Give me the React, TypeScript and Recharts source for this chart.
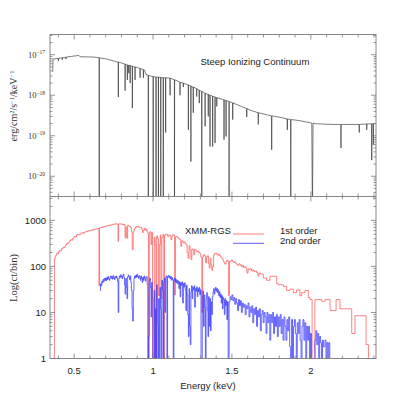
import React from 'react';
import { LineChart, Line, XAxis, YAxis } from 'recharts';

// ---------- layout constants ----------
const SIZE = 409;
const LEFT = 50;
const RIGHT = 376;
const TOP = 34.5;
const MID = 196.5;
const BOTTOM = 358.5;
const PANEL_H = MID - TOP;
const PLOT_W = RIGHT - LEFT;
const XAXIS_H = 20;
const FRAME = '#7a7a7a';
const SANS = 'Liberation Sans, Arial, Helvetica, sans-serif';
const SERIF = 'Liberation Serif, Times New Roman, serif';

// ---------- axes ----------
const energyDomain: [number, number] = [0.347, 2.413];
const energyTicks = [0.4, 0.5, 0.6, 0.7, 0.8, 0.9, 1.0, 1.1, 1.2, 1.3, 1.4, 1.5, 1.6, 1.7, 1.8, 1.9, 2.0, 2.1, 2.2, 2.3, 2.4];
const energyMajor = [0.5, 1, 1.5, 2];
const energyMajorLabels = ['0.5', '1', '1.5', '2'];

const fluxDomain: [number, number] = [3.162e-21, 3.162e-17];
const fluxMajor = [1e-20, 1e-19, 1e-18, 1e-17];
const fluxMajorExponents = ['\u221220', '\u221219', '\u221218', '\u221217'];
const fluxMinor = [
  4e-21, 5e-21, 6e-21, 7e-21, 8e-21, 9e-21,
  2e-20, 3e-20, 4e-20, 5e-20, 6e-20, 7e-20, 8e-20, 9e-20,
  2e-19, 3e-19, 4e-19, 5e-19, 6e-19, 7e-19, 8e-19, 9e-19,
  2e-18, 3e-18, 4e-18, 5e-18, 6e-18, 7e-18, 8e-18, 9e-18,
  2e-17, 3e-17,
];

const countDomain: [number, number] = [1, 3300];
const countMajor = [1, 10, 100, 1000];
const countMajorLabels = ['1', '10', '100', '1000'];
const countMinor = [2, 3, 4, 5, 6, 7, 8, 9, 20, 30, 40, 50, 60, 70, 80, 90, 200, 300, 400, 500, 600, 700, 800, 900, 2000, 3000];

// ---------- top panel: continuum model (energy keV, flux) ----------
const continuum: [number, number][] = [
  [0.364, 3.8e-18], [0.366, 7.8e-18], [0.392, 8.1e-18], [0.453, 8.8e-18], [0.5, 9.3e-18],
  [0.53, 9.6e-18], [0.537, 8.9e-18], [0.62, 8.8e-18], [0.65, 8.5e-18], [0.707, 7.8e-18],
  [0.77, 6.7e-18], [0.833, 5.7e-18], [0.875, 5.1e-18], [0.945, 4.2e-18], [0.955, 3.3e-18],
  [0.99, 2.95e-18], [1.044, 2.75e-18], [1.115, 2.6e-18], [1.15, 2.3e-18], [1.197, 1.95e-18],
  [1.25, 1.6e-18], [1.298, 1.3e-18], [1.345, 1.07e-18], [1.41, 8.6e-19], [1.47, 7.3e-19],
  [1.509, 6.4e-19], [1.56, 5.3e-19], [1.615, 4.3e-19], [1.675, 3.65e-19], [1.72, 3.3e-19],
  [1.762, 3.05e-19], [1.805, 2.85e-19], [1.845, 2.62e-19], [1.9, 2.45e-19], [1.932, 2.35e-19],
  [2.0, 2.08e-19], [2.027, 1.98e-19], [2.143, 1.9e-19], [2.248, 1.9e-19], [2.354, 1.95e-19],
  [2.405, 2.0e-19],
];

// absorption lines: centre energy, flux at the line shoulders, flux at line bottom, half width (keV)
const lineEnergy = [
  0.4, 0.425, 0.449, 0.659, 0.78, 0.823, 0.837, 0.846, 0.855, 0.869, 0.886, 0.918, 0.939,
  0.97, 1.001, 1.019, 1.034, 1.049, 1.065, 1.08, 1.108, 1.136, 1.171, 1.192, 1.224, 1.24,
  1.255, 1.277, 1.293, 1.309, 1.33, 1.35, 1.361, 1.378, 1.393, 1.404, 1.45, 1.463, 1.482,
  1.505, 1.594, 1.667, 1.752, 1.851, 1.873, 2.01, 2.191, 2.307, 2.354, 2.386, 2.396,
];
const lineShoulder = [
  8.1e-18, 8.4e-18, 8.7e-18, 8.4e-18, 6.6e-18, 5.9e-18, 5.6e-18, 5.5e-18, 5.4e-18, 5.2e-18, 5.0e-18, 4.6e-18, 4.3e-18,
  3.1e-18, 2.9e-18, 2.8e-18, 2.8e-18, 2.75e-18, 2.7e-18, 2.7e-18, 2.65e-18, 2.4e-18, 2.1e-18, 2.0e-18, 1.8e-18, 1.7e-18,
  1.6e-18, 1.45e-18, 1.33e-18, 1.25e-18, 1.12e-18, 1.05e-18, 1.0e-18, 9.5e-19, 9.0e-19, 8.7e-19, 7.7e-19, 7.4e-19, 7.0e-19,
  6.5e-19, 4.7e-19, 3.7e-19, 3.1e-19, 2.6e-19, 2.5e-19, 2.05e-19, 1.9e-19, 1.9e-19, 1.95e-19, 1.97e-19, 1.98e-19,
];
const lineDepth = [
  7.0e-18, 7.5e-18, 7.8e-18, 1e-21, 9.0e-19, 1.3e-18, 2.4e-18, 3.5e-18, 2.0e-18, 4.8e-19, 2.4e-18, 2.7e-18, 2.7e-18,
  1e-21, 1e-21, 1e-21, 1e-21, 1e-21, 1e-21, 1.2e-19, 1.0e-18, 1e-21, 1.0e-18, 1.6e-18, 1.4e-19, 2.3e-20,
  3.7e-19, 9.3e-19, 6.4e-19, 1e-21, 1.7e-19, 3.0e-19, 5.4e-20, 5.4e-20, 6.6e-20, 5.3e-19, 8.0e-20, 9.6e-20, 1e-21,
  2.5e-19, 2.9e-19, 1.9e-19, 4.5e-20, 1.4e-19, 1e-21, 1e-21, 5.0e-20, 1.2e-19, 1.4e-19, 2.5e-20, 6e-20,
];
const lineHalfWidth = [
  0.0008, 0.0008, 0.0008, 0.0008, 0.0012, 0.0012, 0.0008, 0.0008, 0.0008, 0.0012, 0.0012, 0.0012, 0.0012,
  0.0008, 0.0008, 0.0008, 0.0008, 0.0008, 0.0008, 0.0008, 0.0012, 0.0008, 0.0012, 0.0008, 0.0012, 0.0012,
  0.0012, 0.0008, 0.0008, 0.0008, 0.0012, 0.0008, 0.0012, 0.0012, 0.0008, 0.0008, 0.0012, 0.0012, 0.0008,
  0.0012, 0.0015, 0.0015, 0.0015, 0.0015, 0.0012, 0.004, 0.0015, 0.0015, 0.0015, 0.0015, 0.0008,
];

// ---------- bottom panel: XMM-RGS counts (energy keV, counts/bin) ----------
const firstOrder: [number, number][] = [
  [0.372, 0.5], [0.375, 140], [0.379, 160], [0.384, 175], [0.39, 196], [0.396, 190], [0.401, 210], [0.407, 222],
  [0.413, 218], [0.419, 240], [0.425, 250], [0.431, 262], [0.437, 258], [0.443, 285], [0.449, 300], [0.455, 320],
  [0.461, 315], [0.467, 345], [0.473, 365], [0.479, 380], [0.485, 372], [0.491, 410], [0.497, 430], [0.503, 445],
  [0.509, 438], [0.515, 480], [0.521, 490], [0.527, 500], [0.533, 485], [0.539, 515], [0.545, 530], [0.551, 540],
  [0.557, 525], [0.563, 550], [0.569, 560], [0.575, 575], [0.581, 565], [0.587, 590], [0.593, 600], [0.599, 595],
  [0.605, 615], [0.611, 625], [0.617, 610], [0.623, 635], [0.629, 640], [0.635, 650], [0.641, 645], [0.647, 660],
  [0.653, 670], [0.657, 38], [0.661, 690], [0.667, 700], [0.673, 715], [0.679, 705], [0.685, 730], [0.691, 745],
  [0.697, 740], [0.703, 760], [0.709, 770], [0.715, 765], [0.721, 790], [0.727, 780], [0.733, 800], [0.739, 815],
  [0.745, 805], [0.751, 825], [0.757, 840], [0.763, 830], [0.769, 845], [0.775, 820], [0.778, 350], [0.782, 830],
  [0.788, 850], [0.794, 835], [0.8, 815], [0.806, 830], [0.812, 790], [0.818, 810], [0.823, 420], [0.828, 720],
  [0.834, 410], [0.839, 780], [0.845, 760], [0.851, 740], [0.857, 700], [0.863, 560], [0.868, 231], [0.874, 560],
  [0.88, 650], [0.886, 700], [0.892, 730], [0.898, 720], [0.904, 740], [0.91, 715], [0.916, 690], [0.922, 700],
  [0.928, 640], [0.933, 540], [0.938, 600], [0.944, 680], [0.95, 610], [0.956, 640], [0.962, 560], [0.968, 500],
  [0.972, 0.5], [0.976, 540], [0.982, 570], [0.987, 300], [0.992, 540], [0.997, 0.5], [1.008, 430], [1.013, 300],
  [1.018, 0.5], [1.023, 460], [1.029, 400], [1.034, 23], [1.04, 300], [1.046, 480], [1.05, 20], [1.056, 420],
  [1.063, 500], [1.068, 0.5], [1.073, 470], [1.08, 500], [1.087, 490], [1.093, 450], [1.1, 480], [1.107, 470],
  [1.113, 380], [1.119, 460], [1.126, 490], [1.132, 470], [1.137, 24], [1.142, 440], [1.15, 450], [1.156, 415],
  [1.163, 400], [1.17, 380], [1.176, 273], [1.182, 360], [1.19, 330], [1.196, 340], [1.203, 310], [1.21, 300],
  [1.216, 200], [1.222, 150], [1.228, 280], [1.234, 220], [1.24, 140], [1.246, 240], [1.252, 230], [1.258, 180],
  [1.264, 235], [1.27, 225], [1.277, 210], [1.284, 215], [1.29, 200], [1.297, 190], [1.303, 160], [1.309, 10],
  [1.314, 160], [1.32, 180], [1.327, 170], [1.333, 120], [1.339, 160], [1.345, 170], [1.351, 115], [1.356, 92],
  [1.362, 150], [1.368, 105], [1.373, 82], [1.378, 100], [1.384, 180], [1.39, 190], [1.396, 195], [1.403, 185],
  [1.41, 175], [1.416, 185], [1.423, 170], [1.43, 155], [1.437, 150], [1.444, 130], [1.45, 118], [1.456, 112],
  [1.462, 128], [1.468, 138], [1.474, 128], [1.479, 23], [1.484, 128], [1.49, 132], [1.497, 138], [1.503, 128],
  [1.51, 122], [1.517, 126], [1.524, 116], [1.531, 110], [1.538, 105], [1.545, 114], [1.552, 108], [1.559, 98],
  [1.566, 104], [1.573, 95], [1.58, 99], [1.588, 91], [1.595, 72], [1.602, 88], [1.609, 85], [1.616, 89],
  [1.624, 80], [1.632, 84], [1.64, 77], [1.648, 80], [1.656, 74], [1.664, 62], [1.672, 72], [1.68, 68],
  [1.699, 56], [1.72, 50], [1.741, 61], [1.784, 42], [1.794, 40], [1.826, 37], [1.847, 30], [1.868, 32],
  [1.889, 27], [1.91, 31], [1.931, 23], [1.942, 27], [1.963, 30], [1.984, 21], [1.995, 19], [2.008, 0.5],
  [2.026, 19], [2.069, 17.5], [2.09, 19], [2.122, 11], [2.16, 19], [2.185, 12], [2.259, 3.5], [2.28, 8.5],
  [2.35, 2.0], [2.365, 0.5],
];

const secondOrder: [number, number][] = [
  [0.663, 30], [0.667, 42], [0.671, 38], [0.675, 48], [0.679, 44], [0.683, 52], [0.687, 47], [0.691, 55],
  [0.695, 50], [0.699, 56], [0.703, 49], [0.707, 58], [0.711, 52], [0.715, 60], [0.719, 54], [0.723, 50],
  [0.727, 58], [0.731, 62], [0.735, 55], [0.739, 60], [0.743, 53], [0.747, 63], [0.751, 57], [0.755, 52],
  [0.759, 60], [0.763, 56], [0.767, 62], [0.771, 55], [0.775, 48], [0.779, 10], [0.783, 55], [0.787, 62],
  [0.791, 58], [0.795, 66], [0.799, 60], [0.803, 54], [0.807, 62], [0.811, 68], [0.815, 58], [0.819, 40],
  [0.823, 25], [0.827, 55], [0.831, 35], [0.835, 20], [0.839, 60], [0.843, 65], [0.847, 58], [0.851, 52],
  [0.855, 62], [0.859, 45], [0.863, 30], [0.867, 12], [0.871, 6.5], [0.875, 30], [0.879, 55], [0.883, 62],
  [0.887, 56], [0.891, 65], [0.895, 58], [0.899, 68], [0.903, 60], [0.907, 55], [0.911, 63], [0.915, 58],
  [0.919, 50], [0.923, 62], [0.927, 55], [0.931, 45], [0.935, 58], [0.939, 50], [0.943, 62], [0.947, 55],
  [0.951, 48], [0.955, 58], [0.959, 60], [0.963, 40], [0.967, 0.5], [0.971, 3], [0.975, 50], [0.979, 55],
  [0.983, 35], [0.987, 8], [0.991, 45], [0.995, 20], [0.999, 0.5], [1.007, 30], [1.011, 0.5], [1.015, 12],
  [1.019, 0.5], [1.023, 40], [1.027, 6], [1.031, 0.5], [1.035, 20], [1.04, 0.5], [1.044, 35], [1.048, 12],
  [1.052, 0.5], [1.056, 50], [1.06, 30], [1.064, 0.5], [1.068, 45], [1.072, 55], [1.076, 10], [1.08, 58],
  [1.084, 62], [1.088, 0.5], [1.092, 60], [1.096, 64], [1.1, 57], [1.104, 62], [1.108, 54], [1.112, 60],
  [1.116, 50], [1.12, 57], [1.124, 52], [1.128, 0.5], [1.132, 50], [1.136, 56], [1.14, 46], [1.144, 52],
  [1.148, 44], [1.152, 50], [1.156, 42], [1.16, 48], [1.164, 33], [1.168, 46], [1.172, 22], [1.176, 44],
  [1.18, 39], [1.184, 46], [1.188, 16], [1.192, 42], [1.196, 36], [1.2, 44], [1.204, 31], [1.208, 11],
  [1.212, 39], [1.216, 24], [1.22, 9], [1.224, 3], [1.228, 33], [1.232, 5], [1.236, 2], [1.24, 28],
  [1.244, 38], [1.248, 20], [1.252, 35], [1.256, 31], [1.26, 38], [1.264, 13], [1.268, 33], [1.272, 29],
  [1.276, 36], [1.28, 22], [1.284, 33], [1.288, 28], [1.292, 35], [1.296, 24], [1.3, 31], [1.304, 0.5],
  [1.312, 22], [1.316, 29], [1.32, 5], [1.324, 24], [1.328, 13], [1.332, 0.5], [1.336, 20], [1.34, 27],
  [1.344, 11], [1.348, 3], [1.352, 22], [1.356, 5], [1.36, 20], [1.364, 4], [1.368, 17], [1.372, 9],
  [1.376, 22], [1.38, 28], [1.384, 33], [1.388, 25], [1.392, 31], [1.396, 35], [1.4, 29], [1.404, 33],
  [1.408, 27], [1.412, 31], [1.416, 23], [1.42, 28], [1.424, 21], [1.428, 25], [1.432, 16], [1.436, 23],
  [1.44, 12], [1.444, 21], [1.448, 19], [1.452, 9], [1.456, 20], [1.46, 14], [1.464, 18], [1.468, 7],
  [1.472, 17], [1.476, 0.5], [1.482, 17], [1.488, 22], [1.494, 19], [1.5, 24], [1.506, 18], [1.512, 21],
  [1.518, 15], [1.524, 20], [1.53, 16], [1.536, 11], [1.542, 19], [1.548, 14], [1.554, 18], [1.56, 10],
  [1.566, 16], [1.572, 13], [1.578, 15], [1.584, 9], [1.59, 14], [1.596, 12], [1.602, 16], [1.608, 8],
  [1.614, 13], [1.62, 10], [1.626, 14], [1.632, 6], [1.638, 12], [1.644, 9], [1.65, 13], [1.656, 5],
  [1.662, 11], [1.668, 8], [1.674, 12], [1.68, 4], [1.686, 9], [1.692, 11], [1.698, 6], [1.704, 10],
  [1.71, 8], [1.716, 3.5], [1.722, 10], [1.728, 6], [1.734, 9], [1.74, 2.5], [1.746, 9], [1.752, 6],
  [1.758, 10], [1.764, 3.5], [1.77, 8], [1.776, 5], [1.782, 9], [1.788, 3], [1.794, 8], [1.8, 5],
  [1.806, 9], [1.812, 3.5], [1.818, 7], [1.824, 2.5], [1.83, 8], [1.836, 5], [1.842, 2.5], [1.848, 7],
  [1.854, 4], [1.86, 8], [1.866, 1.8], [1.872, 0.5], [1.878, 7], [1.884, 0.5], [1.89, 5], [1.896, 7],
  [1.902, 3.5], [1.908, 0.5], [1.914, 6], [1.92, 3.5], [1.926, 7], [1.932, 2.5], [1.938, 0.5], [1.944, 5],
  [1.95, 7], [1.956, 2.5], [1.962, 6], [1.968, 0.5], [1.974, 5], [1.98, 2.5], [1.986, 5], [1.992, 0.5],
  [1.998, 3.5], [2.004, 0.5], [2.026, 2.5], [2.032, 4], [2.038, 2], [2.044, 3.5], [2.05, 0.5], [2.056, 3],
  [2.062, 2.2], [2.068, 0.5], [2.074, 2.5], [2.08, 1.8], [2.09, 2.5], [2.096, 0.5], [2.102, 2.2], [2.108, 0.5],
  [2.114, 2.2], [2.12, 0.5],
];

// ---------- tables for recharts ----------
const topData = [
  ...continuum.map(([e, f]) => ({ e, f })),
  ...lineEnergy.flatMap((e, i) => [
    { e: e - lineHalfWidth[i], f: lineShoulder[i] },
    { e, f: lineDepth[i] },
    { e: e + lineHalfWidth[i], f: lineShoulder[i] },
  ]),
].sort((a, b) => a.e - b.e);

const firstData = firstOrder.map(([e, c]) => ({ e, c }));
const secondData = secondOrder.map(([e, c]) => ({ e, c }));

// ---------- tick renderers ----------
const majorEnergyIndex = (v: number) => energyMajor.findIndex((m) => Math.abs(m - v) < 1e-9);

function EnergyTick(props: any) {
  const { x, payload, withLabel, bottomY } = props;
  const idx = majorEnergyIndex(payload.value);
  const len = idx >= 0 ? 5 : 3;
  const top = bottomY - PANEL_H;
  return (
    <g>
      <line x1={x} x2={x} y1={bottomY} y2={bottomY - len} stroke={FRAME} strokeWidth={0.8} />
      <line x1={x} x2={x} y1={top} y2={top + len} stroke={FRAME} strokeWidth={0.8} />
      {withLabel && idx >= 0 ? (
        <text x={x} y={bottomY + 15.5} textAnchor="middle" fontFamily={SANS} fontSize={9.5} fill="#222">
          {energyMajorLabels[idx]}
        </text>
      ) : null}
    </g>
  );
}

function FluxTick(props: any) {
  const { y, payload } = props;
  const idx = fluxMajor.findIndex((m) => Math.abs(m - payload.value) / m < 1e-6);
  const len = idx >= 0 ? 5 : 2.5;
  return (
    <g>
      <line x1={LEFT} x2={LEFT + len} y1={y} y2={y} stroke={FRAME} strokeWidth={0.8} />
      <line x1={RIGHT} x2={RIGHT - len} y1={y} y2={y} stroke={FRAME} strokeWidth={0.8} />
      {idx >= 0 ? (
        <text x={LEFT - 5} y={y + 3} textAnchor="end" fontFamily={SERIF} fontSize={8.5} fill="#333">
          10
          <tspan dy={-3.5} fontSize={5.5}>
            {fluxMajorExponents[idx]}
          </tspan>
        </text>
      ) : null}
    </g>
  );
}

function CountTick(props: any) {
  const { y, payload } = props;
  const idx = countMajor.findIndex((m) => Math.abs(m - payload.value) / m < 1e-6);
  const len = idx >= 0 ? 5 : 2.5;
  return (
    <g>
      <line x1={LEFT} x2={LEFT + len} y1={y} y2={y} stroke={FRAME} strokeWidth={0.8} />
      <line x1={RIGHT} x2={RIGHT - len} y1={y} y2={y} stroke={FRAME} strokeWidth={0.8} />
      {idx >= 0 ? (
        <text x={LEFT - 4} y={y + 3.4} textAnchor="end" fontFamily={SANS} fontSize={9.5} fill="#222">
          {countMajorLabels[idx]}
        </text>
      ) : null}
    </g>
  );
}

const fluxTicks = [...fluxMinor, ...fluxMajor].sort((a, b) => a - b);
const countTicks = [...countMinor, ...countMajor].sort((a, b) => a - b);

export default function App() {
  return (
    <div style={{ position: 'absolute', left: 0, top: 0, width: SIZE, height: SIZE, background: '#fff' }}>
      <div style={{ position: 'absolute', left: 0, top: 0 }}>
        <LineChart
          width={SIZE}
          height={SIZE}
          data={topData}
          margin={{ top: TOP, right: SIZE - RIGHT, bottom: SIZE - MID - XAXIS_H, left: 0 }}
        >
          <XAxis
            dataKey="e"
            type="number"
            domain={energyDomain}
            allowDataOverflow
            ticks={energyTicks}
            interval={0}
            height={XAXIS_H}
            axisLine={false}
            tickLine={false}
            tickSize={0}
            tickMargin={0}
            tick={(p: any) => <EnergyTick {...p} bottomY={MID} withLabel={false} />}
          />
          <YAxis
            type="number"
            scale="log"
            domain={fluxDomain}
            allowDataOverflow
            ticks={fluxTicks}
            interval={0}
            width={LEFT}
            axisLine={false}
            tickLine={false}
            tickSize={0}
            tickMargin={0}
            tick={(p: any) => <FluxTick {...p} />}
          />
          <Line
            type="linear"
            dataKey="f"
            stroke="#262626"
            strokeWidth={0.6}
            dot={false}
            isAnimationActive={false}
          />
        </LineChart>
      </div>
      <div style={{ position: 'absolute', left: 0, top: 0 }}>
        <LineChart
          width={SIZE}
          height={SIZE}
          margin={{ top: MID, right: SIZE - RIGHT, bottom: SIZE - BOTTOM - XAXIS_H, left: 0 }}
        >
          <XAxis
            dataKey="e"
            type="number"
            domain={energyDomain}
            allowDataOverflow
            ticks={energyTicks}
            interval={0}
            height={XAXIS_H}
            axisLine={false}
            tickLine={false}
            tickSize={0}
            tickMargin={0}
            tick={(p: any) => <EnergyTick {...p} bottomY={BOTTOM} withLabel={true} />}
          />
          <YAxis
            type="number"
            scale="log"
            domain={countDomain}
            allowDataOverflow
            ticks={countTicks}
            interval={0}
            width={LEFT}
            axisLine={false}
            tickLine={false}
            tickSize={0}
            tickMargin={0}
            tick={(p: any) => <CountTick {...p} />}
          />
          <Line
            data={firstData}
            type="stepAfter"
            dataKey="c"
            stroke="#ff5a5a"
            strokeWidth={0.75}
            dot={false}
            isAnimationActive={false}
          />
          <Line
            data={secondData}
            type="stepAfter"
            dataKey="c"
            stroke="#3535ff"
            strokeWidth={0.75}
            dot={false}
            isAnimationActive={false}
          />
        </LineChart>
      </div>
      <svg
        width={SIZE}
        height={SIZE}
        style={{ position: 'absolute', left: 0, top: 0, pointerEvents: 'none' }}
      >
        <rect x={LEFT} y={TOP} width={PLOT_W} height={BOTTOM - TOP} fill="none" stroke={FRAME} strokeWidth={0.9} />
        <line x1={LEFT} x2={RIGHT} y1={MID} y2={MID} stroke={FRAME} strokeWidth={0.9} />
        <text x={200.5} y={65} fontFamily={SANS} fontSize={9.5} fill="#222">
          Steep Ionizing Continuum
        </text>
        <text
          transform="translate(17,106) rotate(-90)"
          textAnchor="middle"
          fontFamily={SERIF}
          fontSize={10}
          fill="#333"
        >
          erg/cm
          <tspan dy={-3.5} fontSize={6.5}>2</tspan>
          <tspan dy={3.5}>/s</tspan>
          <tspan dy={-3.5} fontSize={6.5}>{'\u22121'}</tspan>
          <tspan dy={3.5}>/keV</tspan>
          <tspan dy={-3.5} fontSize={6.5}>{'\u22121'}</tspan>
        </text>
        <text
          transform="translate(17,278) rotate(-90)"
          textAnchor="middle"
          fontFamily={SERIF}
          fontSize={10.5}
          fill="#333"
        >
          Log(ct/bin)
        </text>
        <text x={208} y={389} textAnchor="middle" fontFamily={SANS} fontSize={9.5} fill="#222">
          Energy (keV)
        </text>
        <text x={185} y={233.5} fontFamily={SANS} fontSize={9.5} fill="#222">
          XMM-RGS
        </text>
        <line x1={233} x2={264} y1={234} y2={234} stroke="#ff5a5a" strokeWidth={0.8} />
        <line x1={233} x2={264} y1={243.3} y2={243.3} stroke="#3535ff" strokeWidth={0.8} />
        <text x={280} y={233.5} fontFamily={SANS} fontSize={9.5} fill="#222">
          1st order
        </text>
        <text x={280} y={243.5} fontFamily={SANS} fontSize={9.5} fill="#222">
          2nd order
        </text>
      </svg>
    </div>
  );
}
